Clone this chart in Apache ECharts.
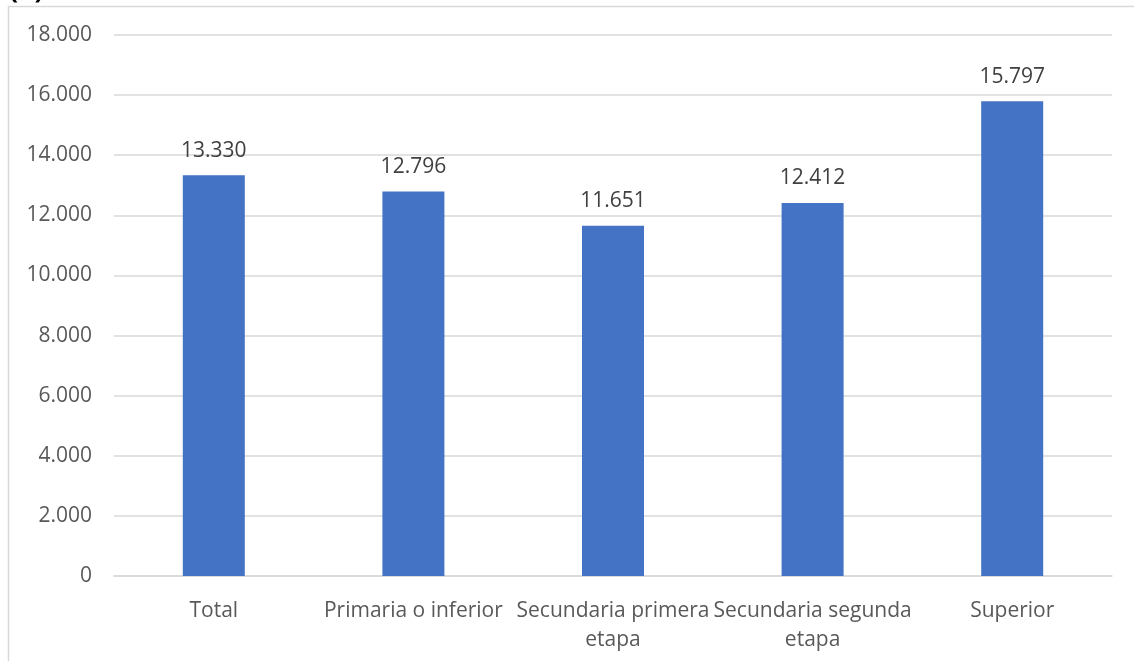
<!DOCTYPE html>
<html>
<head>
<meta charset="utf-8">
<script src="https://cdn.jsdelivr.net/npm/echarts@6/dist/echarts.min.js"></script>
<style>
html,body{margin:0;padding:0;background:#fff;}
#chart{width:1134px;height:661px;}
</style>
</head>
<body>
<div id="chart"></div>
<script>
const categories = ['Total', 'Primaria o inferior', 'Secundaria primera\netapa', 'Secundaria segunda\netapa', 'Superior'];
const values = [13330, 12796, 11651, 12412, 15797];
const yTicks = { min: 0, max: 18000, interval: 2000 };

function fmt(v) {
  return String(Math.round(v)).replace(/\B(?=(\d{3})+(?!\d))/g, '.');
}

const FONT = 'Open Sans';
const chart = echarts.init(document.getElementById('chart'));
chart.setOption({
  animation: false,
  backgroundColor: '#ffffff',
  graphic: [
    { type: 'rect', shape: { x: 8.5, y: 6.5, width: 1300, height: 800 }, style: { fill: 'none', stroke: '#d9d9d9', lineWidth: 1.5 }, z: -1 },
    { type: 'text', left: 9, top: -23, style: { text: '(a)', font: 'bold 27px "Open Sans"', fill: '#000' } }
  ],
  grid: { left: 114, right: 22, top: 35, bottom: 85, containLabel: false },
  xAxis: {
    type: 'category',
    data: categories,
    axisLine: { lineStyle: { color: '#d9d9d9', width: 1.5 } },
    axisTick: { show: false },
    axisLabel: { color: '#595959', fontFamily: FONT, fontSize: 21, margin: 21, lineHeight: 29, interval: 0 }
  },
  yAxis: {
    type: 'value',
    min: yTicks.min, max: yTicks.max, interval: yTicks.interval,
    axisLine: { show: false },
    axisTick: { show: false },
    splitLine: { lineStyle: { color: '#d9d9d9', width: 1.5 } },
    axisLabel: { color: '#595959', fontFamily: FONT, fontSize: 21, margin: 22, formatter: fmt }
  },
  series: [{
    type: 'bar',
    data: values,
    barWidth: 62,
    itemStyle: { color: '#4472c4' },
    label: { show: true, position: 'top', distance: 14, color: '#404040', fontFamily: FONT, fontSize: 21, formatter: p => fmt(p.value) }
  }]
});
</script>
</body>
</html>
